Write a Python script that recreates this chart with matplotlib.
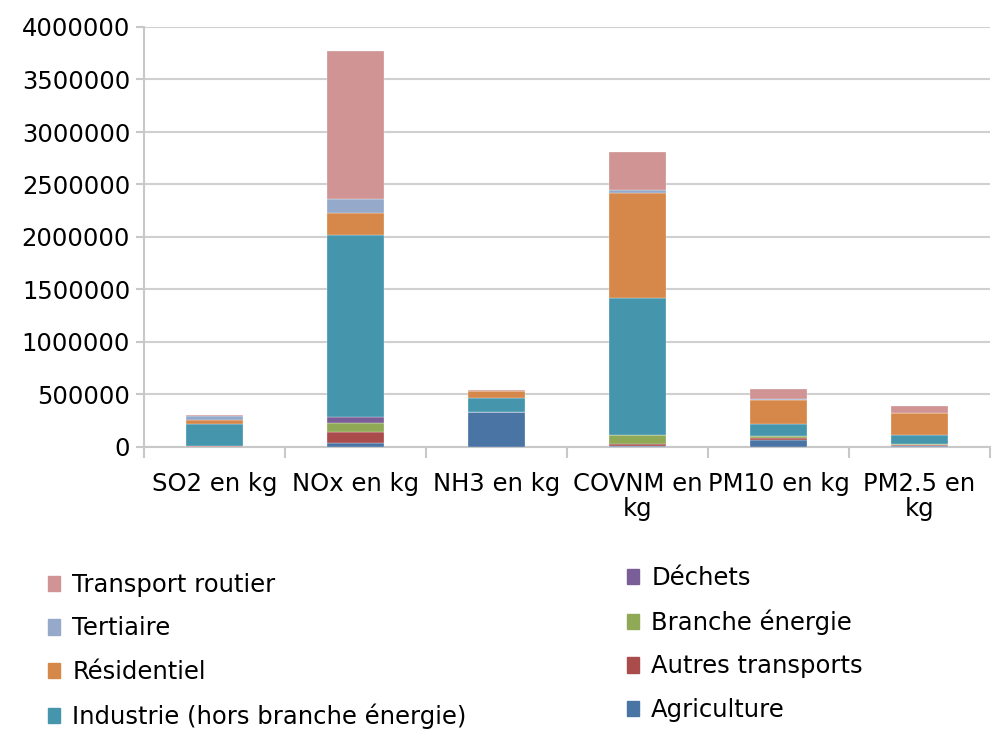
import numpy as np
import matplotlib
matplotlib.use("Agg")
import matplotlib.pyplot as plt
from matplotlib.patches import Patch

# Données (kg)
categories = ["SO2 en kg", "NOx en kg", "NH3 en kg", "COVNM en\nkg", "PM10 en kg", "PM2.5 en\nkg"]

agriculture = [3000, 35000, 330000, 8000, 69000, 10000]
autres_transports = [2000, 105000, 1000, 19000, 19000, 13000]
branche_energie = [2000, 86000, 0, 86000, 13000, 3000]
dechets = [3000, 57000, 5000, 5000, 2000, 1000]
industrie = [210000, 1733000, 133000, 1305000, 118000, 83000]
residentiel = [38000, 215000, 65000, 992000, 228000, 215000]
tertiaire = [41000, 131000, 3000, 30000, 5000, 3000]
transport_routier = [9000, 1412000, 5000, 365000, 99000, 66000]

series = [
    ("Agriculture", agriculture, "#4A74A4"),
    ("Autres transports", autres_transports, "#A94C4B"),
    ("Branche énergie", branche_energie, "#8FA956"),
    ("Déchets", dechets, "#7A5E97"),
    ("Industrie (hors branche énergie)", industrie, "#4596AD"),
    ("Résidentiel", residentiel, "#D6884A"),
    ("Tertiaire", tertiaire, "#95A9CB"),
    ("Transport routier", transport_routier, "#D09494"),
]

fs = 17.5
fig = plt.figure(figsize=(9.93, 7.31), dpi=100)
ax = fig.add_axes([144 / 993, 1 - 447 / 731, 846 / 993, 420 / 731])

x = np.arange(len(categories))
bottom = np.zeros(len(categories))
for name, vals, col in series:
    ax.bar(x, vals, 0.41, bottom=bottom, color=col, edgecolor="white", linewidth=0.2, zorder=3)
    bottom += np.array(vals)

ax.set_xlim(-0.5, len(categories) - 0.5)
ax.set_ylim(0, 4000000)
ax.set_yticks(np.arange(0, 4000001, 500000))
ax.set_yticklabels([str(v) for v in range(0, 4000001, 500000)], fontsize=fs)
ax.yaxis.grid(True, color="#D0D0D0", linewidth=1.5, zorder=0)
ax.set_xticks(x)
ax.set_xticklabels(categories, fontsize=fs, linespacing=1.05)
ax.set_xticks(np.arange(-0.5, len(categories), 1), minor=True)
ax.tick_params(axis="x", which="major", length=0, pad=18)
ax.tick_params(axis="x", which="minor", length=8, color="#C8C8C8", width=1.5)
ax.tick_params(axis="y", length=6, color="#C8C8C8", width=1.5, pad=4)

for s in ["top", "right"]:
    ax.spines[s].set_visible(False)
ax.spines["left"].set_color("#C8C8C8")
ax.spines["bottom"].set_color("#C8C8C8")
ax.spines["left"].set_linewidth(1.5)
ax.spines["bottom"].set_linewidth(1.5)

colors = {name: col for name, _, col in series}
col1 = ["Transport routier", "Tertiaire", "Résidentiel", "Industrie (hors branche énergie)"]
col2 = ["Déchets", "Branche énergie", "Autres transports", "Agriculture"]

kw = dict(loc="upper left", frameon=False, fontsize=fs, handlelength=0.5,
          handleheight=0.6, handletextpad=0.5, labelspacing=0.8, borderpad=0,
          borderaxespad=0)
leg1 = fig.legend([Patch(color=colors[n]) for n in col1], col1,
                  bbox_to_anchor=(48 / 993, 1 - 573 / 731), **kw)
leg2 = fig.legend([Patch(color=colors[n]) for n in col2], col2,
                  bbox_to_anchor=(627 / 993, 1 - 566 / 731), **kw)

fig.savefig("out.png", dpi=100)
